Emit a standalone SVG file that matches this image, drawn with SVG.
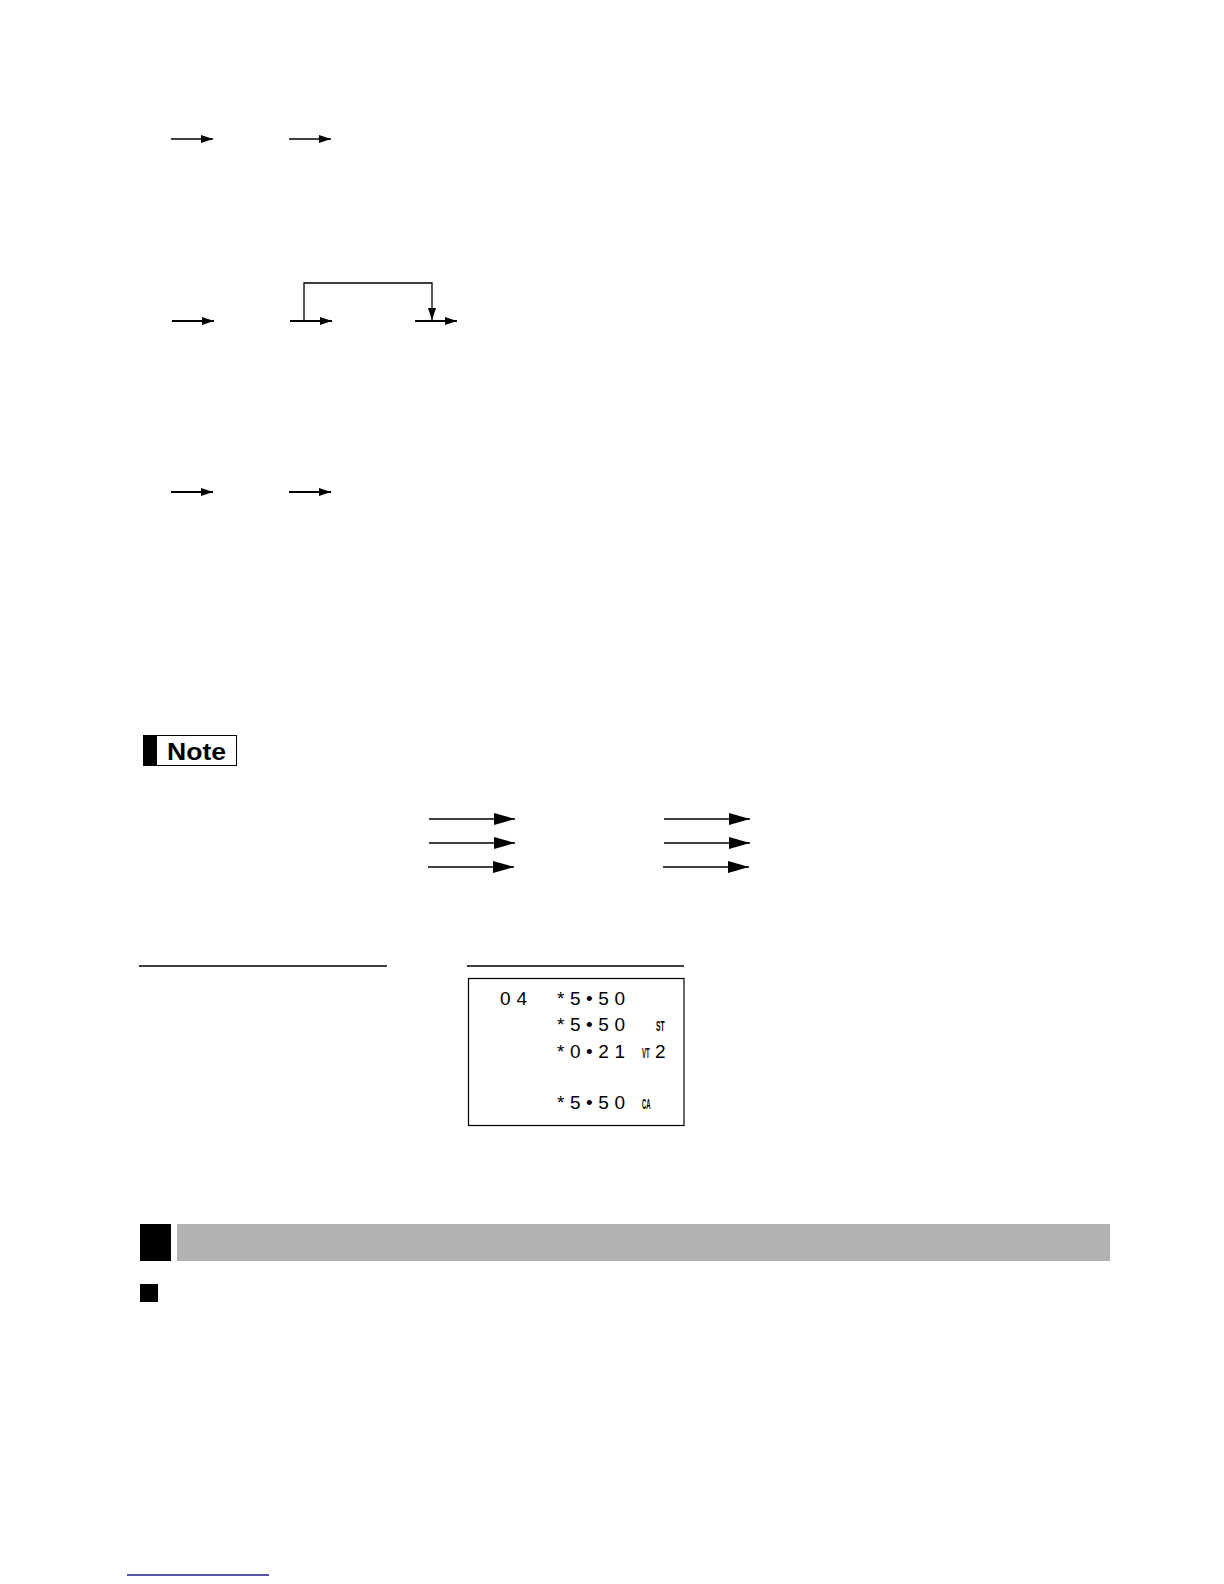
<svg xmlns="http://www.w3.org/2000/svg" width="1224" height="1584" viewBox="0 0 1224 1584">
<style>
.ln{stroke:#000;fill:none}
.thin{stroke-width:1.6}
.med{stroke-width:2}
.rc{font-family:"Liberation Sans",Arial,sans-serif;font-size:19px;fill:#000}
.rs{font-family:"Liberation Sans",Arial,sans-serif;font-size:15px;font-weight:bold;fill:#000}
</style>
<defs>
<marker id="ah" viewBox="0 0 12 8" refX="12" refY="4" markerWidth="12" markerHeight="8" markerUnits="userSpaceOnUse" orient="auto">
<path d="M0,0 L12,4 L0,8 z" fill="#000"/>
</marker>
<marker id="ahL" viewBox="0 0 21 12" refX="21" refY="6" markerWidth="21" markerHeight="12" markerUnits="userSpaceOnUse" orient="auto">
<path d="M0,0 L21,6 L0,12 z" fill="#000"/>
</marker>
</defs>
<rect width="1224" height="1584" fill="#fff"/>

<g id="connectors">
<line class="ln thin" x1="171" y1="139" x2="213" y2="139" marker-end="url(#ah)"/>
<line class="ln thin" x1="289" y1="139" x2="331" y2="139" marker-end="url(#ah)"/>
<line class="ln med" x1="172" y1="321" x2="214" y2="321" marker-end="url(#ah)"/>
<line class="ln med" x1="290" y1="321" x2="332" y2="321" marker-end="url(#ah)"/>
<line class="ln med" x1="415" y1="321" x2="457" y2="321" marker-end="url(#ah)"/>
<polyline class="ln" stroke-width="1.3" points="304,321 304,283 432,283 432,320" marker-end="url(#ah)"/>
<line class="ln med" x1="171" y1="492" x2="213" y2="492" marker-end="url(#ah)"/>
<line class="ln med" x1="289" y1="492" x2="331" y2="492" marker-end="url(#ah)"/>
<line class="ln thin" x1="429" y1="819" x2="515" y2="819" marker-end="url(#ahL)"/>
<line class="ln thin" x1="429" y1="843" x2="515" y2="843" marker-end="url(#ahL)"/>
<line class="ln thin" x1="428" y1="867" x2="514" y2="867" marker-end="url(#ahL)"/>
<line class="ln thin" x1="664" y1="819" x2="750" y2="819" marker-end="url(#ahL)"/>
<line class="ln thin" x1="664" y1="843" x2="750" y2="843" marker-end="url(#ahL)"/>
<line class="ln thin" x1="663" y1="867" x2="749" y2="867" marker-end="url(#ahL)"/>
</g>

<g id="note">
<rect x="143.5" y="735.5" width="93" height="30" fill="#fff" stroke="#000" stroke-width="1"/>
<rect x="143" y="735" width="14" height="31" fill="#000"/>
<text x="167" y="760" font-family="'Liberation Sans',Arial,sans-serif" font-size="24" font-weight="bold" fill="#000" textLength="59" lengthAdjust="spacingAndGlyphs">Note</text>
</g>

<g id="rules">
<line x1="139" y1="966" x2="387" y2="966" stroke="#000" stroke-width="1.5"/>
<line x1="467" y1="966" x2="684" y2="966" stroke="#000" stroke-width="1.5"/>
</g>

<g id="receipt">
<rect x="468.5" y="978.5" width="215.5" height="147" fill="#fff" stroke="#000" stroke-width="1.2"/>
<text class="rc" x="500" y="1005" textLength="27" lengthAdjust="spacing">0 4</text>
<text class="rc" x="557" y="1005" textLength="68" lengthAdjust="spacing">*5•50</text>
<text class="rc" x="557" y="1031" textLength="68" lengthAdjust="spacing">*5•50</text>
<text class="rs" transform="translate(656,1031) scale(0.45,1)">ST</text>
<text class="rc" x="557" y="1058" textLength="68" lengthAdjust="spacing">*0•21</text>
<text class="rs" transform="translate(642,1058) scale(0.4,1)">VT</text>
<text class="rc" x="655" y="1058">2</text>
<text class="rc" x="557" y="1109" textLength="68" lengthAdjust="spacing">*5•50</text>
<text class="rs" transform="translate(642,1109) scale(0.4,1)">CA</text>
</g>

<g id="section-header">
<rect x="140" y="1224" width="31" height="37" fill="#000"/>
<rect x="177" y="1224" width="933" height="37" fill="#b2b2b2"/>
</g>

<g id="subsection-marker">
<rect x="140" y="1284" width="18" height="18" fill="#000"/>
</g>

<g id="footer-link">
<line x1="127" y1="1575" x2="269" y2="1575" stroke="#1c1c8c" stroke-width="1.5"/>
</g>
</svg>
